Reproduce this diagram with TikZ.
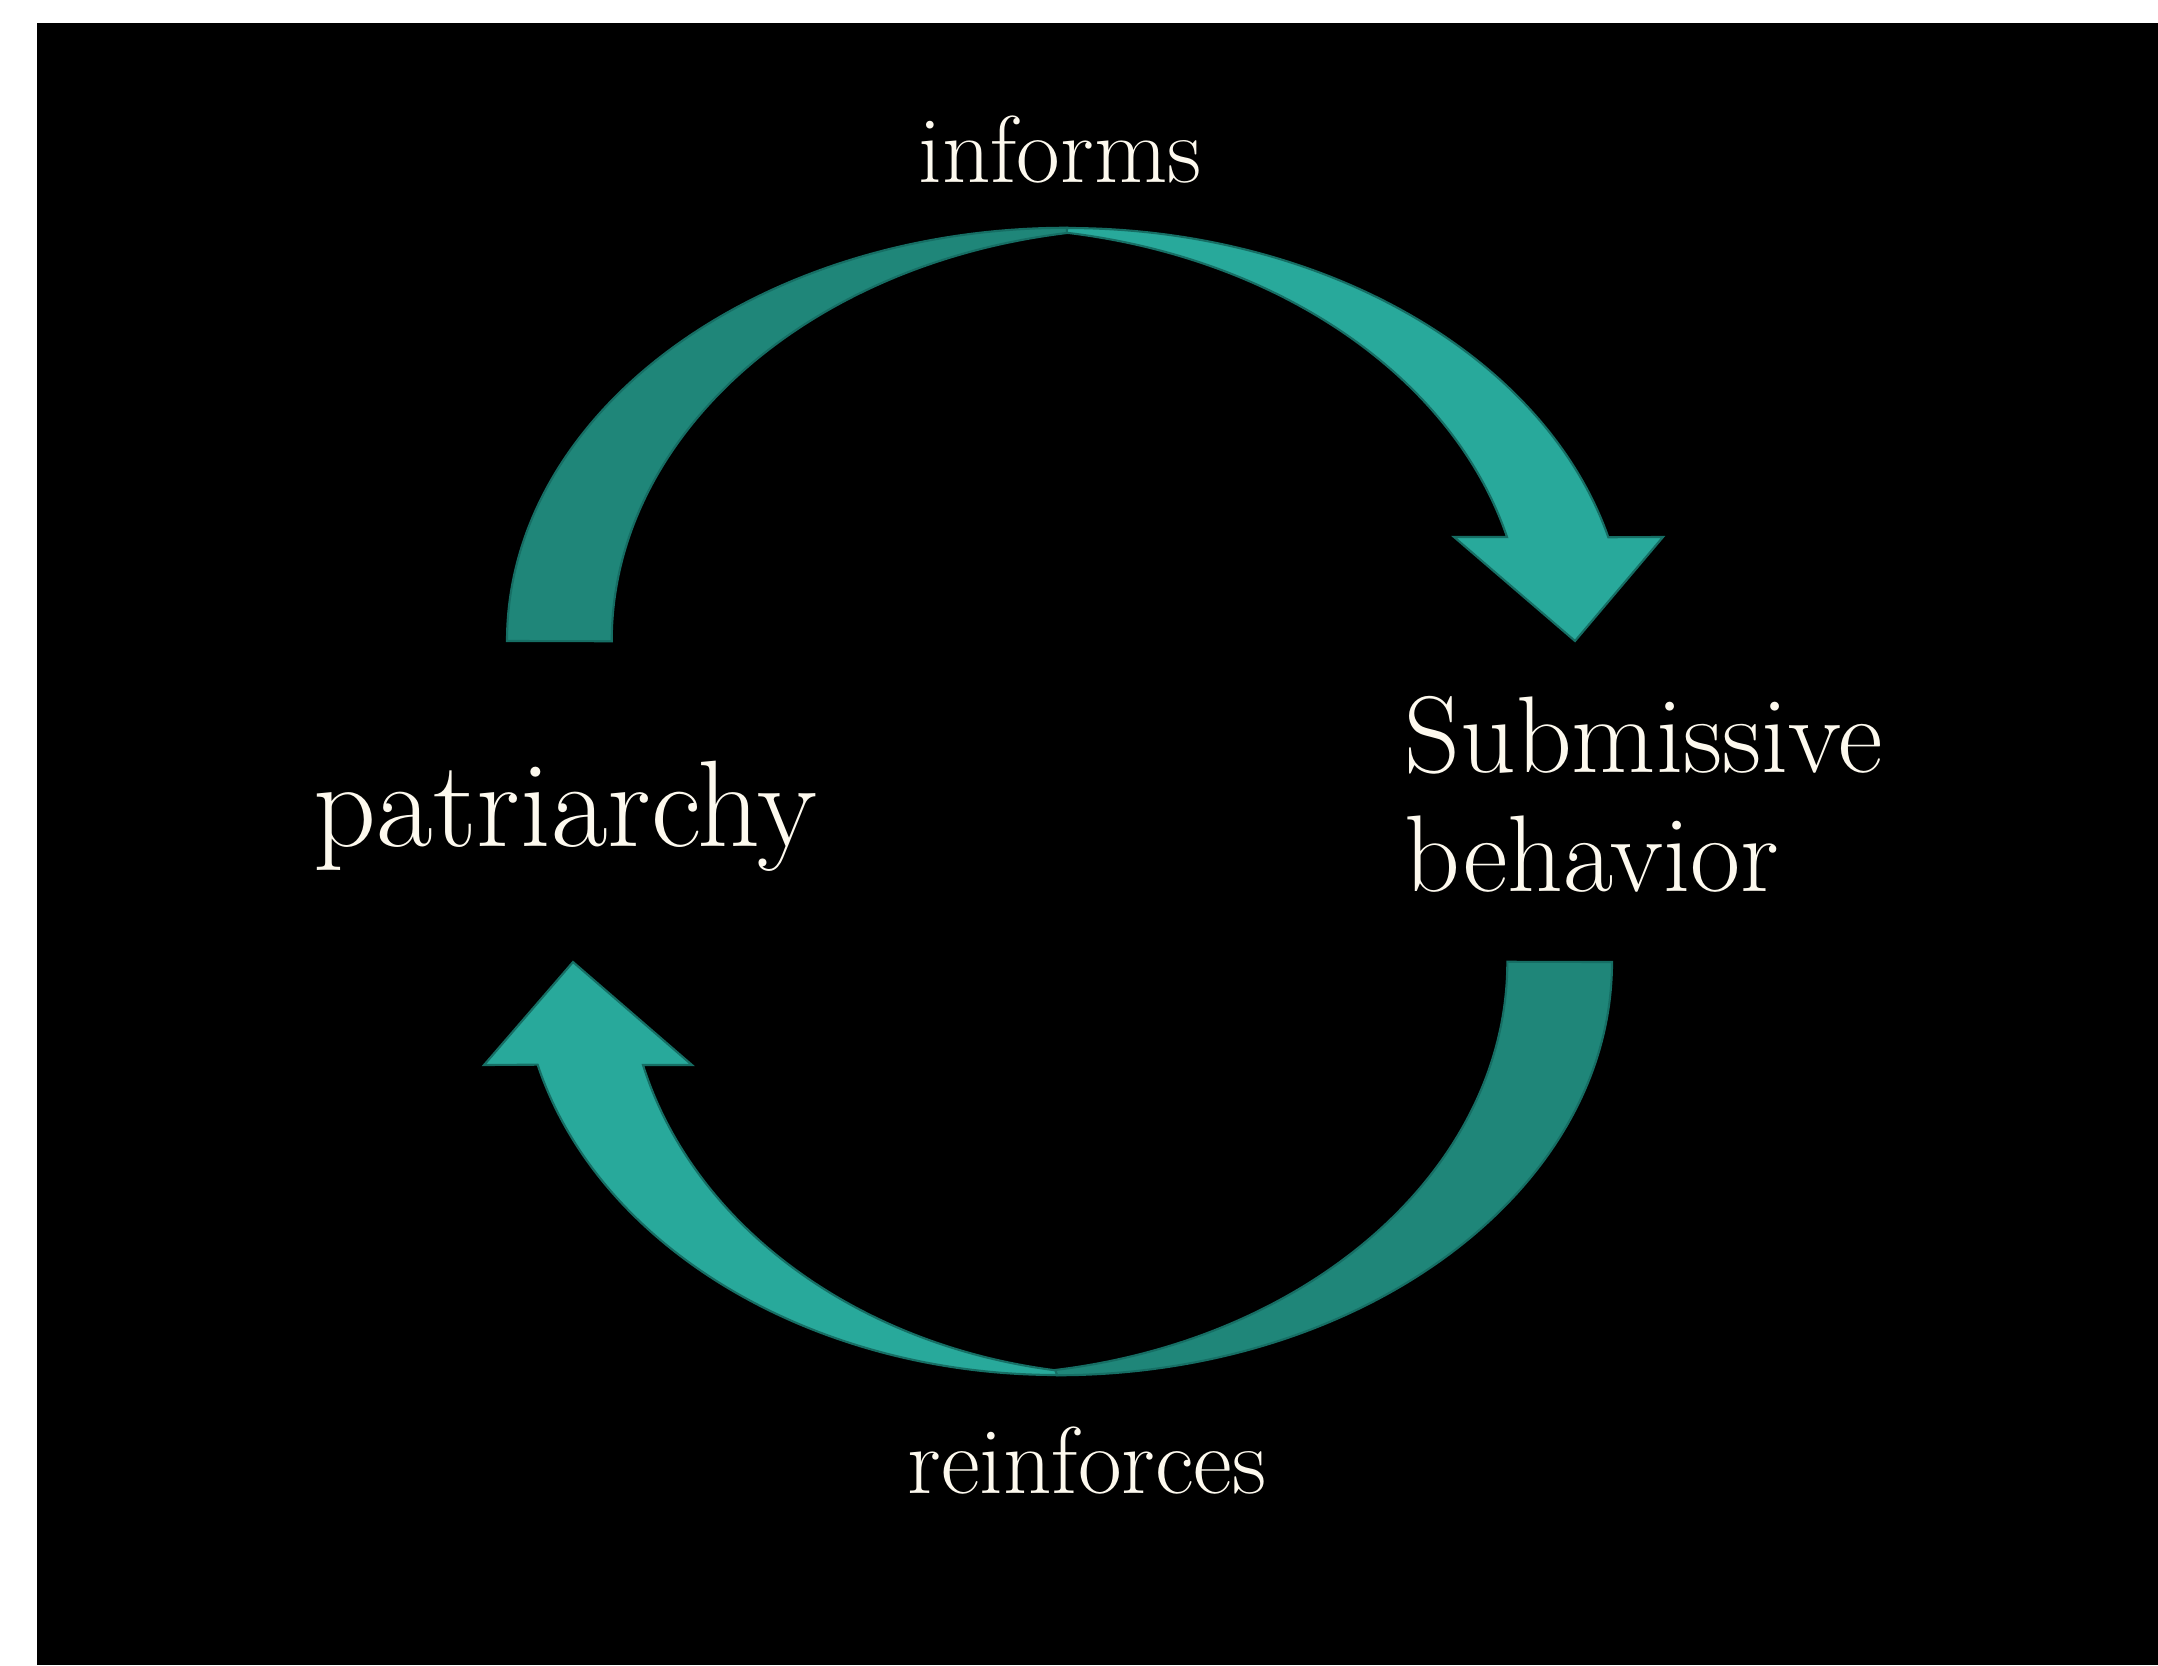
\documentclass[tikz,border=0pt]{standalone}
\definecolor{darkteal}{RGB}{31,134,121}
\definecolor{lightteal}{RGB}{40,169,155}
\definecolor{edgeteal}{RGB}{22,110,100}
\definecolor{cream}{RGB}{253,249,238}
\begin{document}
\begin{tikzpicture}[x=0.01cm,y=0.01cm,
  backband/.style={fill=darkteal,draw=edgeteal,line width=0.6pt},
  frontband/.style={fill=lightteal,draw=edgeteal,line width=0.6pt},
  lbl/.style={text=cream,inner sep=0pt,font=\fontsize{27}{32}\selectfont},
  big/.style={text=cream,inner sep=0pt,font=\fontsize{31}{37}\selectfont},
  bigger/.style={text=cream,inner sep=0pt,font=\fontsize{35}{42}\selectfont}]
\useasboundingbox (0,0) rectangle (2158,1665);
\fill[white] (0,0) rectangle (2158,1665);
\fill[black] (37,0) rectangle (2158,1642);
% top arrow: back half
\path[backband] (507,1024) arc[start angle=180,end angle=90,x radius=5.60cm,y radius=4.13cm]
  -- (1067,1432) arc[start angle=98.92,end angle=180,x radius=5.385cm,y radius=4.13cm] -- cycle;
% top arrow: front half with head
\path[frontband] (1067,1437) arc[start angle=90,end angle=14.58,x radius=5.59cm,y radius=4.13cm]
  -- (1663,1128) -- (1575,1024) -- (1454,1128) -- (1507,1128)
  arc[start angle=14.58,end angle=81.08,x radius=5.413cm,y radius=4.13cm] -- cycle;
% bottom arrow: back half
\path[backband] (1612,703) arc[start angle=0,end angle=-90,x radius=5.55cm,y radius=4.13cm]
  -- (1055,295) arc[start angle=-81.08,end angle=0,x radius=5.35cm,y radius=4.13cm] -- cycle;
% bottom arrow: front half with head
\path[frontband] (1057,290) arc[start angle=-90,end angle=-165.58,x radius=5.36cm,y radius=4.13cm]
  -- (484,600) -- (573,703) -- (692,600) -- (643,600)
  arc[start angle=-165.58,end angle=-98.96,x radius=5.07cm,y radius=4.13cm] -- cycle;
% labels
\node[lbl,anchor=base] (informs) at (1060,1482) {informs};
\node[lbl,anchor=base] (reinforces) at (1087,172) {reinforces};
\node[bigger,anchor=base west] (patriarchy) at (313,819) {patriarchy};
\node[big,anchor=base west] (submissive) at (1404,893) {Submissive};
\node[big,anchor=base west] (behavior) at (1404,774) {behavior};
\end{tikzpicture}
\end{document}
